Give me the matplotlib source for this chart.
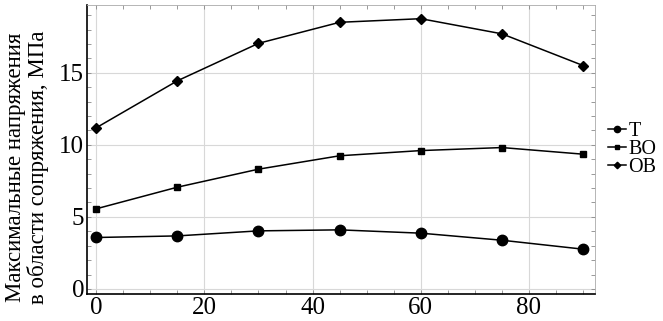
import matplotlib
matplotlib.use('Agg')
import matplotlib.pyplot as plt
from matplotlib.ticker import MultipleLocator

# Data
angles = [0, 15, 30, 45, 60, 75, 90]
stress_t = [3.57, 3.68, 4.03, 4.10, 3.87, 3.38, 2.76]
stress_bo = [5.56, 7.06, 8.31, 9.24, 9.60, 9.81, 9.35]
stress_ob = [11.18, 14.44, 17.04, 18.50, 18.75, 17.70, 15.50]
series_labels = ['Т', 'ВО', 'ОВ']

plt.rcParams['font.family'] = ['Liberation Serif', 'DejaVu Serif']

fig = plt.figure(figsize=(6.63, 3.21), dpi=100)
ax = fig.add_axes([87 / 663, 27 / 321, 508 / 663, 289 / 321])

ax.plot(angles, stress_t, '-o', color='black', lw=1.1, ms=7.5, label=series_labels[0])
ax.plot(angles, stress_bo, '-s', color='black', lw=1.1, ms=5, label=series_labels[1])
ax.plot(angles, stress_ob, '-D', color='black', lw=1.1, ms=5.5, label=series_labels[2])

ax.set_xlim(-1.7, 92.2)
ax.set_ylim(-0.35, 19.7)
ax.xaxis.set_major_locator(MultipleLocator(20))
ax.xaxis.set_minor_locator(MultipleLocator(5))
ax.yaxis.set_major_locator(MultipleLocator(5))
ax.yaxis.set_minor_locator(MultipleLocator(1))
ax.grid(True, which='major', color='#d8d8d8', lw=0.8)
ax.tick_params(which='both', direction='in', top=True, right=True,
               labelsize=18, color='#888888', length=3, width=0.6, pad=2)
for side in ['top', 'right']:
    ax.spines[side].set_color('#aaaaaa')
    ax.spines[side].set_linewidth(0.6)
for side in ['left', 'bottom']:
    ax.spines[side].set_linewidth(1.2)

ax.set_ylabel('Максимальные напряжения\nв области сопряжения, МПа', fontsize=16.5,
              linespacing=1.05)
ax.yaxis.set_label_coords(-0.075, 0.44)

ax.legend(loc='center left', bbox_to_anchor=(1.0, 0.5), frameon=False, fontsize=14.5,
          handlelength=0.9, handletextpad=0.1, labelspacing=-0.05, markerscale=0.6,
          borderaxespad=0.25)

fig.savefig('out.png', dpi=100)
